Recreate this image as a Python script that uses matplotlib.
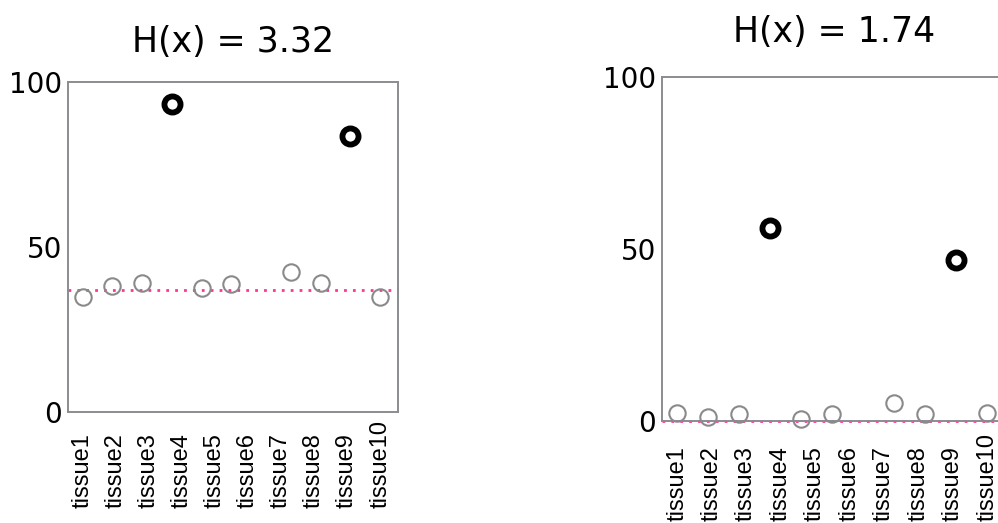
import numpy as np
import matplotlib.pyplot as plt

tissues = ["tissue%d" % i for i in range(1, 11)]

# slot of each point on the x scale (11 slots, slot 6 left empty)
slots = [0, 1, 2, 3, 4, 5, 7, 8, 9, 10]

# expression values per tissue
even_vals = [35.0, 38.2, 39.0, 93.3, 37.5, 38.8, 42.4, 39.0, 83.6, 34.8]
even_ref = 37.0
even_title = "H(x) = 3.32"

spec_vals = [2.3, 1.0, 1.9, 56.1, 0.4, 1.9, 5.2, 1.9, 46.6, 2.3]
spec_ref = 0.0
spec_title = "H(x) = 1.74"

# highlighted tissues (tissue4, tissue9)
highlight = [3, 8]

fig = plt.figure(figsize=(9.98, 5.23), dpi=100)
ax1 = fig.add_axes([0.0678, 0.2117, 0.331, 0.632])
ax2 = fig.add_axes([0.663, 0.1956, 0.345, 0.658])

spine_col = "#8a8c90"
gray = "#8a8a8a"
pink = "#ff3399"


def draw(ax, vals, ref, title, title_pad, label_pad):
    ax.axhline(ref, color=pink, lw=2.0, ls=(0, (1, 2.2)), zorder=1, clip_on=False)
    for i, v in enumerate(vals):
        if i in highlight:
            ax.plot(slots[i], v, "o", ms=11.6, mfc="white", mec="black",
                    mew=4.2, zorder=3, clip_on=False)
        else:
            ax.plot(slots[i], v, "o", ms=11.8, mfc="none", mec=gray,
                    mew=1.5, zorder=3, clip_on=False)
    ax.set_xlim(-0.5, 10.6)
    ax.set_ylim(0, 100)
    ax.set_yticks([0, 50, 100])
    ax.set_yticklabels(["0", "50", "100"], fontsize=20, family="DejaVu Sans")
    ax.set_xticks(np.linspace(0, 10, len(tissues)))
    ax.set_xticklabels(tissues, rotation=90, rotation_mode="anchor",
                       ha="left", va="center", fontsize=17,
                       family="Liberation Sans")
    ax.tick_params(axis="y", length=0, pad=4)
    ax.tick_params(axis="x", length=0, pad=label_pad)
    for s in ax.spines.values():
        s.set_color(spine_col)
        s.set_linewidth(1.4)
    ax.set_title(title, fontsize=25, family="DejaVu Sans", pad=title_pad)


draw(ax1, even_vals, even_ref, even_title, 21.5, 69)
draw(ax2, spec_vals, spec_ref, spec_title, 25, 72)

fig.savefig("out.png", dpi=100)
